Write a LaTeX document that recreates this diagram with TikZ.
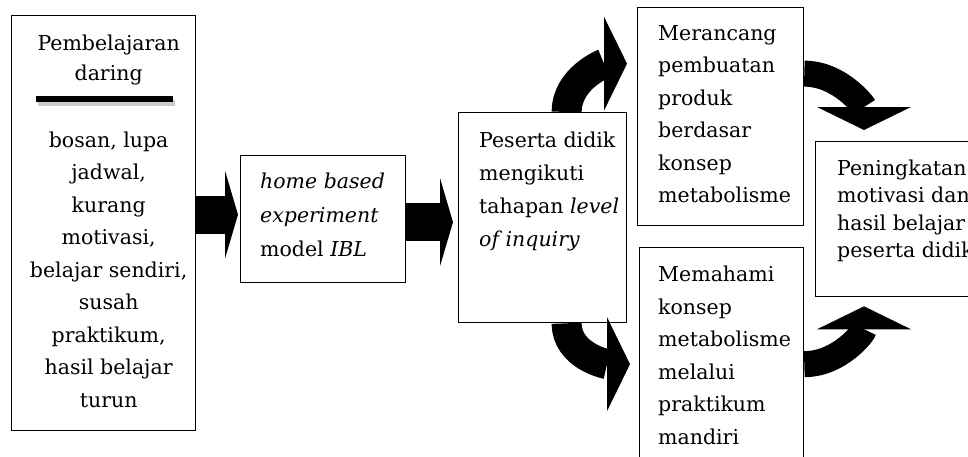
\documentclass[tikz,border=0pt]{standalone}
\usepackage{fontspec}
\setmainfont{DejaVu Serif}
\usetikzlibrary{arrows.meta}

\begin{document}
\begin{tikzpicture}[x=1pt,y=-1pt,
  box/.style={draw,line width=1.3pt,inner sep=0pt,anchor=north west},
  boxtext/.style={font=\fontsize{20.5}{32.5}\selectfont,inner sep=0pt,align=left,anchor=north west},
  fatarrow/.style={line width=38pt,-{Triangle[length=13pt,width=88pt,line width=0pt]}},
  bendarrow/.style={line width=30pt,-{Triangle[length=23pt,width=94pt,line width=0pt]}},
]
\useasboundingbox (0,0) rectangle (968,456);
\clip (0,0) rectangle (968,456);

% Boxes
\node[box,minimum width=184pt,minimum height=415pt] (b1) at (11,15) {};
\node[box,minimum width=165pt,minimum height=127pt] (b2) at (240,155) {};
\node[box,minimum width=168pt,minimum height=210pt] (b3) at (458,112) {};
\node[box,minimum width=166pt,minimum height=218pt] (b4) at (637,7) {};
\node[box,minimum width=164pt,minimum height=233pt] (b5) at (639,247) {};
\node[box,minimum width=175pt,minimum height=155pt] (b6) at (815,141) {};

% Pembelajaran daring
\node[boxtext,align=center,anchor=north,font=\fontsize{20.5}{30}\selectfont] (daring) at ([shift={(5,19.5)}]b1.north) {Pembelajaran\\daring};
\draw[gray!40,line width=6pt] ([shift={(27,88)}]b1.north west) -- ([shift={(164,88)}]b1.north west);
\draw[line width=5.5pt] ([shift={(25,84)}]b1.north west) -- ([shift={(162,84)}]b1.north west);
\node[boxtext,align=center,anchor=north] (masalah) at ([shift={(5,116.5)}]b1.north)
  {bosan, lupa\\jadwal,\\kurang\\motivasi,\\belajar sendiri,\\susah\\praktikum,\\hasil belajar\\turun};

% Box texts
\node[boxtext,font=\fontsize{20.5}{34}\selectfont] (hbe) at ([shift={(20,17.5)}]b2.north west)
  {\textit{home based}\\\textit{experiment}\\model \textit{IBL}};
\node[boxtext,font=\fontsize{20.5}{33}\selectfont] (loi) at ([shift={(21,19.5)}]b3.north west)
  {Peserta didik\\mengikuti\\tahapan \textit{level}\\\textit{of inquiry}};
\node[boxtext] (produk) at ([shift={(21,18)}]b4.north west)
  {Merancang\\pembuatan\\produk\\berdasar\\konsep\\metabolisme};
\node[boxtext] (praktikum) at ([shift={(19,19)}]b5.north west)
  {Memahami\\konsep\\metabolisme\\melalui\\praktikum\\mandiri};
\node[boxtext,font=\fontsize{20.5}{27.5}\selectfont] (hasil) at ([shift={(22,18.4)}]b6.north west)
  {Peningkatan\\motivasi dan\\hasil belajar\\peserta didik};

% Block arrows
\draw[fatarrow,shorten >=2pt] ([yshift=8.5pt]b1.east) -- ([yshift=4.5pt]b2.west);
\draw[fatarrow,shorten >=5pt] ([yshift=-3pt]b2.east) -- ([yshift=-4.5pt]b3.west);

% Curved arrows
\draw[bendarrow,shorten >=10pt] ([xshift=24pt]b3.north) to[out=90,in=180] ([yshift=53pt]b4.west);
\draw[bendarrow,shorten >=9pt] ([xshift=24pt]b3.south) to[out=-90,in=180] (b5.west);
\draw[bendarrow,line width=26pt,shorten >=11pt] ([yshift=43pt]b4.east) to[out=0,in=90] ([xshift=49pt]b6.north west);
\draw[bendarrow,line width=26pt,shorten >=9pt] (b5.east) to[out=0,in=-90] ([xshift=49pt]b6.south west);

\end{tikzpicture}
\end{document}
